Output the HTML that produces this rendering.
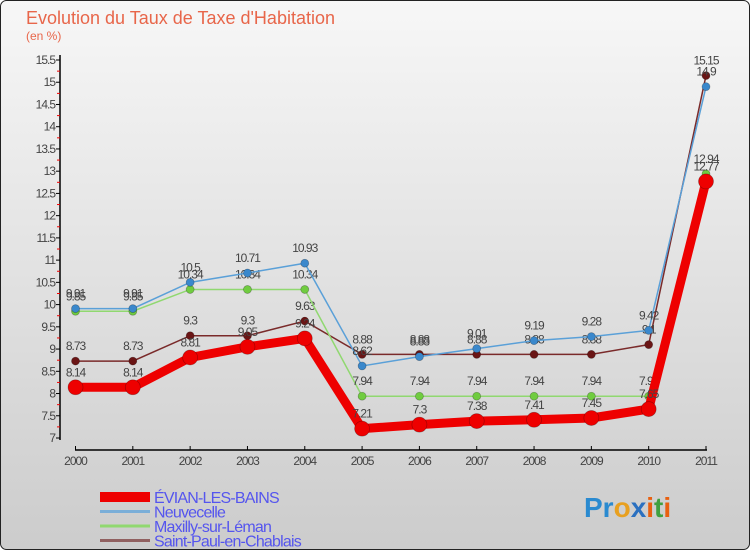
<!DOCTYPE html>
<html><head><meta charset="utf-8"><style>
body{margin:0;background:#fff}
#wrap{position:relative;width:750px;height:550px;font-family:"Liberation Sans",sans-serif}
svg text{font-family:"Liberation Sans",sans-serif}
</style></head><body>
<div id="wrap">
<svg id="chart" width="750" height="550" xmlns="http://www.w3.org/2000/svg">
<defs><linearGradient id="bg" x1="0" y1="0" x2="0" y2="1"><stop offset="0" stop-color="#f7f7f7"/><stop offset="1" stop-color="#cccccc"/></linearGradient></defs>
<rect x="0.5" y="0.5" width="749" height="549" rx="6" fill="url(#bg)" stroke="#222"/>
<text x="26" y="24" font-size="18" fill="#e8664a">Evolution du Taux de Taxe d'Habitation</text>
<text x="26" y="40" font-size="12" fill="#e8664a">(en %)</text>
<g id="axes"></g><g id="series"></g><g id="legend"></g>
<text x="584" y="517" font-size="28" font-weight="bold"><tspan fill="#2a8ad0">Pr</tspan><tspan fill="#e8a020">o</tspan><tspan fill="#2a70c0">x</tspan><tspan fill="#e86010">i</tspan><tspan fill="#40a040">t</tspan><tspan fill="#e86010">i</tspan></text>
</svg></div>
<script>
const years=[2000,2001,2002,2003,2004,2005,2006,2007,2008,2009,2010,2011];
const yTicks=[7,7.5,8,8.5,9,9.5,10,10.5,11,11.5,12,12.5,13,13.5,14,14.5,15,15.5];
const evian=[8.14,8.14,8.81,9.05,9.24,7.21,7.3,7.38,7.41,7.45,7.65,12.77];
const neuvecelle=[9.91,9.91,10.5,10.71,10.93,8.62,8.83,9.01,9.19,9.28,9.42,14.9];
const maxilly=[9.85,9.85,10.34,10.34,10.34,7.94,7.94,7.94,7.94,7.94,7.94,12.94];
const saintPaul=[8.73,8.73,9.3,9.3,9.63,8.88,8.88,8.88,8.88,8.88,9.1,15.15];
const names=["ÉVIAN-LES-BAINS","Neuvecelle","Maxilly-sur-Léman","Saint-Paul-en-Chablais"];
const NS="http://www.w3.org/2000/svg";
const X=i=>75.5+i*(706-75.5)/11;
const Y=v=>438-(v-7)*(438-60)/8.5;
function mk(p,t,a){const e=document.createElementNS(NS,t);for(const k in a)e.setAttribute(k,a[k]);p.appendChild(e);return e;}
const ax=document.getElementById('axes');
let e=mk(ax,'line',{x1:60,y1:55,x2:60,y2:440,stroke:'#000','stroke-width':1.5});


e=mk(ax,'line',{x1:75,y1:450,x2:707,y2:450,stroke:'#000','stroke-width':1.5});


yTicks.forEach((v,k)=>{const y=Y(v);
 mk(ax,'line',{x1:56,y1:y,x2:60,y2:y,stroke:'#000'});
 if(k<yTicks.length-1) mk(ax,'line',{x1:57,y1:y-11.1,x2:60,y2:y-11.1,stroke:'#e00'});
 const t=mk(ax,'text',{x:55,y:y+4,'text-anchor':'end','font-size':12,fill:'#444','letter-spacing':'-1'});t.textContent=v;
 
 });
years.forEach((yr,i)=>{const x=X(i);
 mk(ax,'line',{x1:x,y1:446,x2:x,y2:450,stroke:'#000'});
 const t=mk(ax,'text',{x:x,y:465,'text-anchor':'middle','font-size':12,fill:'#444','letter-spacing':'-1'});t.textContent=yr;
 
 });
const sg=document.getElementById('series');
const defs=[[saintPaul,'#7a2a2a','#6a1515',1.5,4,'saint-paul'],[maxilly,'#90d870','#70cc40',1.5,4,'maxilly'],[neuvecelle,'#5aa0d8','#3a88cc',1.5,4,'neuvecelle'],[evian,'#ee0000','#ee0000',9,7.5,'evian']];
defs.forEach(([d,lc,pc,w,r,n])=>{
 const g=mk(sg,'g',{});
 const l=mk(g,'polyline',{points:d.map((v,i)=>X(i)+','+Y(v)).join(' '),fill:'none',stroke:lc,'stroke-width':w});
 
 
 d.forEach((v,i)=>{const c=mk(g,'circle',{cx:X(i),cy:Y(v),r:r,fill:pc,stroke:'rgba(0,0,0,0.3)','stroke-width':0.7});
  
  
  const t=mk(g,'text',{x:X(i),y:Y(v)-11,'text-anchor':'middle','font-size':12,fill:'#444','letter-spacing':'-1'});t.textContent=v;
  
  });
});
const lg=document.getElementById('legend');
const lc=['#ee0000','#7aaed8','#90d870','#906060'],lw=[10,3,3,3];
names.forEach((n,i)=>{const y=497+i*14.5;
 const l=mk(lg,'line',{x1:100,y1:y,x2:150,y2:y,stroke:lc[i],'stroke-width':lw[i]});
 
 
 const t=mk(lg,'text',{x:154,y:y+6,'font-size':16,fill:'#5555ee','letter-spacing':'-0.8'});t.textContent=n;
 
 });
</script></body></html>
